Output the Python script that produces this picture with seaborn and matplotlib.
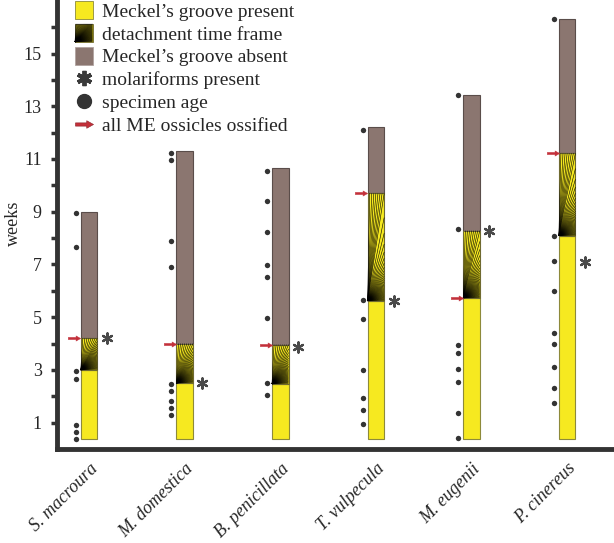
import matplotlib
matplotlib.use("Agg")
import matplotlib.pyplot as plt
import numpy as np
import pandas as pd
import seaborn as sns
from matplotlib.collections import LineCollection
from matplotlib.legend_handler import HandlerBase
from matplotlib.lines import Line2D
from matplotlib.patches import Rectangle
from matplotlib.path import Path

# values (weeks)
species = ["S. macroura", "M. domestica", "B. penicillata",
           "T. vulpecula", "M. eugenii", "P. cinereus"]
bar_start = [0.38, 0.38, 0.38, 0.38, 0.38, 0.38]
groove_present_end = [3.0, 2.5, 2.47, 5.62, 5.73, 8.09]
detachment_end = [4.2, 4.0, 3.96, 9.7, 8.28, 11.22]
oldest_specimen = [9.0, 11.3, 10.65, 12.23, 13.43, 16.31]
molariform_age = [4.2, 2.5, 3.88, 5.62, 8.28, 7.08]
ossified_age = [4.2, 4.0, 3.96, 9.7, 5.73, 11.22]

ages_macroura = [8.96, 7.68, 2.97, 2.67, 0.91, 0.65, 0.39]
ages_domestica = [11.24, 10.96, 7.9, 6.92, 2.46, 2.21, 1.81, 1.56, 1.28]
ages_penicillata = [10.56, 9.41, 8.24, 6.99, 6.54, 4.98, 2.52, 2.04]
ages_vulpecula = [12.1, 5.64, 4.93, 3.0, 1.95, 1.47, 0.94]
ages_eugenii = [13.42, 8.34, 3.95, 3.63, 3.04, 2.54, 1.36, 0.41]
ages_cinereus = [16.3, 8.09, 7.14, 5.98, 4.39, 4.0, 3.11, 2.33, 1.75]
specimen_ages = [ages_macroura, ages_domestica, ages_penicillata,
                 ages_vulpecula, ages_eugenii, ages_cinereus]

YELLOW = "#f6e920"
BROWN = "#8b7670"
RED = "#c3303a"
DARK = "#333333"

sns.set_style("white")
plt.rcParams["font.family"] = ["Liberation Serif", "DejaVu Serif"]

# right pointing block arrow used as a marker
arrow_marker = Path([(-1, -0.18), (0.25, -0.18), (0.25, -0.42), (1, 0),
                     (0.25, 0.42), (0.25, 0.18), (-1, 0.18), (-1, -0.18)],
                    [Path.MOVETO] + [Path.LINETO] * 6 + [Path.CLOSEPOLY])


def fan_segments(x0, y0, w, h, sx, sy, top_step=2.0, dtheta=2.5):
    # lines from the lower-left corner: evenly spread along the top edge,
    # evenly spread in angle below the corner diagonal.
    # sx, sy are pixels per unit so the pattern is even on screen
    wp, hp = w * sx, h * sy
    ends = []
    n_t = max(int(wp / top_step), 1)
    for k in range(1, n_t + 1):
        ends.append((x0 + w * k / n_t, y0 + h))
    diag = np.degrees(np.arctan2(hp, wp))
    for ang in np.arange(diag - dtheta, 0, -dtheta):
        ends.append((x0 + w, y0 + wp * np.tan(np.radians(ang)) / sy))
    return [[(x0, y0), e] for e in ends]


class FanHandler(HandlerBase):
    def create_artists(self, legend, orig_handle, xdescent, ydescent,
                       width, height, fontsize, trans):
        x0, y0 = -xdescent, -ydescent
        rect = Rectangle((x0, y0), width, height, facecolor="#c8bc18",
                         edgecolor="#6f6a30", lw=0.6, transform=trans)
        segs = fan_segments(x0, y0, width, height, 1.39, 1.39, 0.9, 1.6)
        lc = LineCollection(segs, colors="k", linewidths=0.35, transform=trans)
        return [rect, lc]


fig = plt.figure(figsize=(6.14, 5.43), dpi=100)
ax = fig.add_axes([57 / 614, 94 / 543, 557 / 614, 449 / 543])
ax.set_xlim(-0.335, 5.49)
ax.set_ylim(0, 17.03)

x = np.arange(len(species))
width = 0.173

ax.bar(x, np.array(groove_present_end) - np.array(bar_start), width,
       bottom=bar_start, color=YELLOW, edgecolor="#8d8a3a", lw=0.8, zorder=2)
ax.bar(x, np.array(oldest_specimen) - np.array(detachment_end), width,
       bottom=detachment_end, color=BROWN, edgecolor="#5a4d4a", lw=0.8, zorder=2)

# pixels per data unit
p0 = ax.transData.transform((0, 0))
p1 = ax.transData.transform((1, 1))
sx, sy = p1 - p0

for i in range(len(species)):
    x0 = i - width / 2
    y0 = groove_present_end[i]
    h = detachment_end[i] - y0
    ax.add_patch(Rectangle((x0, y0), width, h, facecolor=YELLOW,
                           edgecolor="#6f6a30", lw=0.8, zorder=2))
    ax.add_collection(LineCollection(fan_segments(x0, y0, width, h, sx, sy),
                                     colors="k", linewidths=0.4, zorder=3))

# specimen ages
dots = pd.DataFrame({
    "x": np.concatenate([[i - 0.14] * len(a) for i, a in enumerate(specimen_ages)]),
    "age": np.concatenate(specimen_ages),
})
sns.scatterplot(data=dots, x="x", y="age", color=DARK, s=15, linewidth=0,
                ax=ax, zorder=4, legend=False)

# molariforms present
sns.scatterplot(x=x + 0.185, y=molariform_age, marker=(6, 2, 0), s=55,
                color="#4a4a4a", linewidth=1.6, ax=ax, zorder=4, legend=False)

# all ME ossicles ossified
sns.scatterplot(x=x - 0.152, y=ossified_age, marker=arrow_marker, s=80,
                color=RED, edgecolor=RED, linewidth=0.3, ax=ax, zorder=4,
                legend=False)

ax.set_xlabel("")
ax.set_ylabel("weeks", fontsize=13)
ax.yaxis.set_label_coords(-0.062, 0.503)
ax.set_xticks(x)
ax.set_xticklabels(species, rotation=45, ha="right", va="top",
                   rotation_mode="anchor", fontstyle="italic", fontsize=13)
ax.set_yticks(np.arange(1, 16, 2))
ax.set_yticks(np.arange(2, 17, 2), minor=True)
ax.tick_params(axis="y", which="both", left=True, direction="out",
               length=4, width=2.5, color=DARK, labelsize=13, pad=7)
ax.tick_params(axis="x", length=0, pad=8)

for side in ["top", "right"]:
    ax.spines[side].set_visible(False)
for side in ["left", "bottom"]:
    ax.spines[side].set_linewidth(3.5)
    ax.spines[side].set_color(DARK)

handles = [
    Rectangle((0, 0), 1, 1, facecolor=YELLOW, edgecolor="#8d8a3a", lw=0.6),
    Rectangle((0, 0), 1, 1, facecolor=YELLOW),
    Rectangle((0, 0), 1, 1, facecolor=BROWN, edgecolor="#b0a3a0", lw=0.6),
    Line2D([], [], ls="", marker=(6, 2, 0), ms=11, mew=2.8, color="#3a3a3a"),
    Line2D([], [], ls="", marker="o", ms=10, color=DARK),
    Line2D([], [], ls="", marker=arrow_marker, ms=13, color=RED,
           markeredgecolor="#8a2028", mew=0.4),
]
labels = ["Meckel\u2019s groove present", "detachment time frame",
          "Meckel\u2019s groove absent", "molariforms present",
          "specimen age", "all ME ossicles ossified"]
ax.legend(handles, labels, loc="upper left", bbox_to_anchor=(18 / 557, 0.998),
          frameon=False, fontsize=14, borderpad=0, borderaxespad=0,
          handlelength=0.9, handleheight=1.05, handletextpad=0.5,
          labelspacing=0.17, handler_map={handles[1]: FanHandler()})

fig.savefig("out.png", dpi=100)
